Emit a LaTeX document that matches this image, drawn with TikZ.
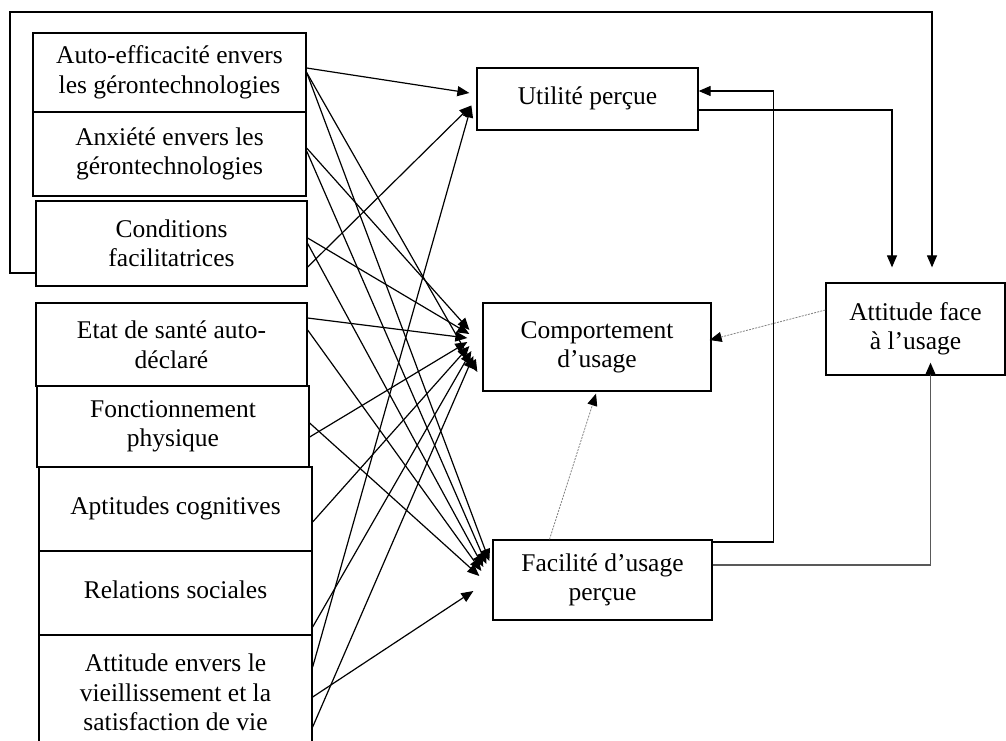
\documentclass[tikz,border=0pt]{standalone}
\usepackage{fontspec}
\setmainfont{Liberation Serif}
\usetikzlibrary{arrows.meta,calc}
\newcommand{\lifted}[2]{\raisebox{#1}{\begin{tabular}{@{}c@{}}#2\end{tabular}}}
\begin{document}
\begin{tikzpicture}[x=1pt,y=-1pt,
  box/.style={draw, line width=1.3pt, inner sep=0pt, align=center, font=\fontsize{25.5}{29.5}\selectfont},
  arr/.style={line width=1.2pt, -{Triangle[length=12pt,width=10pt]}},
  dsh/.style={draw=gray, line width=0.8pt, dash pattern=on 2pt off 1.2pt, -{Triangle[length=12pt,width=10pt,color=black]}},
  grayarr/.style={line width=1.6pt, draw=gray!70!black, -{Triangle[length=12pt,width=10pt,color=black]}}
]
\useasboundingbox (0,0) rectangle (1006,740);
% left factors
\node[box, minimum width=273pt, minimum height=79pt] (a1) at (169.5,72.5) {Auto-efficacité envers\\les gérontechnologies};
\node[box, minimum width=273pt, minimum height=84pt] (a2) at (169.5,154) {Anxiété envers les\\gérontechnologies};
\node[box, minimum width=271pt, minimum height=85pt] (a3) at (171.5,243.5) {Conditions\\facilitatrices};
\node[box, minimum width=271pt, minimum height=83pt] (a4) at (171.5,344.5) {Etat de santé auto-\\déclaré};
\node[box, minimum width=272pt, minimum height=81pt] (a5) at (173,426.5) {Fonctionnement\\physique};
\node[box, minimum width=273pt, minimum height=84pt] (a6) at (175.5,509) {\lifted{7pt}{Aptitudes cognitives}};
\node[box, minimum width=273pt, minimum height=84pt] (a7) at (175.5,593) {\lifted{8pt}{Relations sociales}};
\node[box, minimum width=273pt, minimum height=115pt] (a8) at (175.5,692.5) {Attitude envers le\\vieillissement et la\\satisfaction de vie};
% right boxes
\node[box, minimum width=221pt, minimum height=62pt] (ut) at (587.5,99) {\lifted{6pt}{Utilité perçue}};
\node[box, minimum width=228pt, minimum height=88pt] (co) at (597,347) {\lifted{5pt}{Comportement\\d’usage}};
\node[box, minimum width=179pt, minimum height=92pt] (att) at (915.5,329) {\lifted{12pt}{Attitude face\\à l’usage}};
\node[box, minimum width=219pt, minimum height=80pt] (fa) at (602.5,580) {Facilité d’usage\\perçue};
% left connectors
\draw[arr] ($(a1.east)+(0,-4.5)$) -- ($(ut.west)+(-7,-6)$);
\draw[arr] (a1.east) -- ($(co.west)+(-5,25)$);
\draw[arr] (a1.east) -- ($(fa.west)+(-3,-19)$);
\draw[arr] ($(a2.east)+(0,-6)$) -- ($(co.west)+(-13,-17)$);
\draw[arr] ($(a2.east)+(0,-3)$) -- ($(fa.west)+(-6,-16)$);
\draw[arr] ($(a3.east)+(0,-5.5)$) -- ($(co.west)+(-13,-13)$);
\draw[arr] (a3.east) -- ($(fa.west)+(-9,-13)$);
\draw[arr] ($(a3.east)+(0,23.5)$) -- ($(ut.west)+(-5,6.5)$);
\draw[arr] ($(a4.east)+(0,-26.5)$) -- ($(co.west)+(-15,-9)$);
\draw[arr] ($(a4.east)+(0,-14.5)$) -- ($(fa.west)+(-11,-9)$);
\draw[arr] ($(a5.east)+(0,-3.5)$) -- ($(fa.west)+(-13,-4)$);
\draw[arr] ($(a5.east)+(0,10.5)$) -- ($(co.west)+(-15,-5)$);
\draw[arr] ($(a6.east)+(0,13)$) -- ($(co.west)+(-13,-1)$);
\draw[arr] ($(a7.east)+(0,34)$) -- ($(co.west)+(-11,4)$);
\draw[arr] ($(a8.east)+(0,-25.5)$) -- ($(ut.west)+(-5,6.5)$);
\draw[arr] ($(a8.east)+(0,4.5)$) -- ($(fa.west)+(-19,11)$);
\draw[arr] ($(a8.east)+(0,34.5)$) -- ($(co.west)+(-9,9)$);
% right connectors
\coordinate (lc) at (10,12);
\draw[arr] ($(a3.west)+(0,29.5)$) -| (lc) -| ($(att.north)+(16.5,-15)$);
\draw[arr] ($(ut.east)+(0,11)$) -| ($(att.north)+(-23.5,-15)$);
\draw[arr] ($(fa.east)+(0,-38)$) -| ($(ut.east)+(75,-8)$) -- ($(ut.east)+(0,-8)$);
\draw[grayarr] ($(fa.east)+(0,-15)$) -| ($(att.south)+(15,-13)$);
\draw[dsh] ($(att.west)+(0,-19)$) -- ($(co.east)+(-2,-7)$);
\draw[dsh] ($(fa.north)+(-53,0)$) -- ($(co.south)+(-1,2)$);
\end{tikzpicture}
\end{document}
